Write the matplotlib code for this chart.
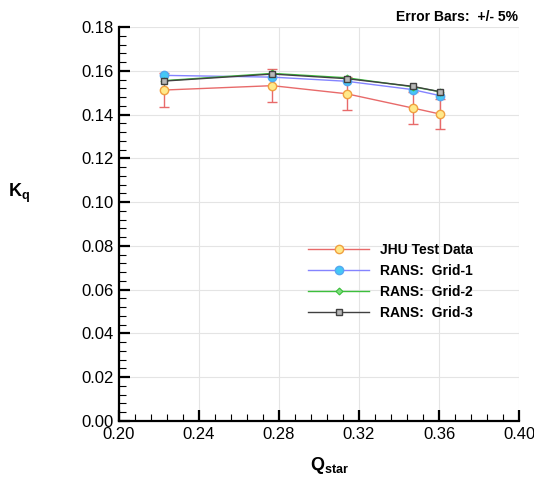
import numpy as np
import matplotlib
matplotlib.use("Agg")
import matplotlib.pyplot as plt
from matplotlib.ticker import MultipleLocator, FormatStrFormatter

plt.rcParams['font.family'] = ['Liberation Sans', 'DejaVu Sans']
plt.rcParams['mathtext.fontset'] = 'custom'
plt.rcParams['mathtext.rm'] = 'Liberation Sans'
plt.rcParams['mathtext.bf'] = 'Liberation Sans:bold'

# flow coefficient points
q_star = [0.2225, 0.2767, 0.3138, 0.3468, 0.3607]

kq_jhu = [0.1512, 0.1532, 0.1495, 0.1430, 0.1402]
kq_grid1 = [0.1579, 0.1571, 0.1552, 0.1514, 0.1486]
kq_grid2 = [0.1555, 0.1588, 0.1568, 0.1527, 0.1504]
kq_grid3 = [0.1553, 0.1585, 0.1564, 0.1529, 0.1504]

ERR_FRAC = 0.05  # +/- 5% on test data

fig = plt.figure(figsize=(5.34, 4.78), dpi=100)
ax = fig.add_axes([119 / 534, 1 - 421 / 478, 400 / 534, 394 / 478])

# error bars drawn apart so the legend shows only line + marker
jhu_err = [v * ERR_FRAC for v in kq_jhu]
ax.errorbar(q_star, kq_jhu, yerr=jhu_err, fmt='none', ecolor='#e86a6a',
            elinewidth=1.0, capsize=3.5, capthick=1.0, zorder=2)
ax.plot(q_star, kq_jhu, color='#e86a6a', lw=1.0, marker='o', ms=6,
        mfc='#ffe98a', mec='#f0a040', mew=1.0, label='JHU Test Data', zorder=3)
ax.plot(q_star, kq_grid1, color='#8484ff', lw=1.0, marker='o', ms=6,
        mfc='#45c8f5', mec='#55a8f0', mew=1.0, label='RANS:  Grid-1', zorder=4)
ax.plot(q_star, kq_grid2, color='#3cbf3c', lw=1.0, marker='D', ms=3.5,
        mfc='#7de07d', mec='#3cbf3c', mew=0.8, label='RANS:  Grid-2', zorder=5)
ax.plot(q_star, kq_grid3, color='#404040', lw=1.0, marker='s', ms=4.5,
        mfc='#b8b8b8', mec='#404040', mew=1.0, label='RANS:  Grid-3', zorder=6)

ax.set_xlim(0.20, 0.40)
ax.set_ylim(0.0, 0.18)
ax.xaxis.set_major_locator(MultipleLocator(0.04))
ax.xaxis.set_minor_locator(MultipleLocator(0.008))
ax.yaxis.set_major_locator(MultipleLocator(0.02))
ax.yaxis.set_minor_locator(MultipleLocator(0.004))
ax.xaxis.set_major_formatter(FormatStrFormatter('%.2f'))
ax.yaxis.set_major_formatter(FormatStrFormatter('%.2f'))

ax.grid(True, which='major', color='#e4e4e4', lw=0.8)
ax.set_axisbelow(True)

for side in ['top', 'right']:
    ax.spines[side].set_visible(False)
for side in ['left', 'bottom']:
    ax.spines[side].set_linewidth(1.6)

ax.tick_params(which='major', direction='in', length=8, width=1.6,
               labelsize=12, pad=4)
ax.tick_params(which='minor', direction='in', length=5, width=0.8)

fig.text(19 / 534, 1 - 193 / 478, r'$\mathbf{K_q}$', fontsize=13,
         ha='center', va='center')
fig.text(330 / 534, 1 - 465 / 478, r'$\mathbf{Q_{star}}$', fontsize=13,
         ha='center', va='center')
fig.text(518 / 534, 1 - 17 / 478, 'Error Bars:  +/- 5%', fontsize=10,
         fontweight='bold', ha='right', va='center')

leg = ax.legend(loc='upper left', bbox_to_anchor=(308 / 534, 1 - 243 / 478),
                bbox_transform=fig.transFigure, frameon=False, borderpad=0,
                borderaxespad=0, handlelength=4.4, handletextpad=0.8,
                labelspacing=0.5, prop={'weight': 'bold', 'size': 10})

fig.savefig('out.png', dpi=100)
